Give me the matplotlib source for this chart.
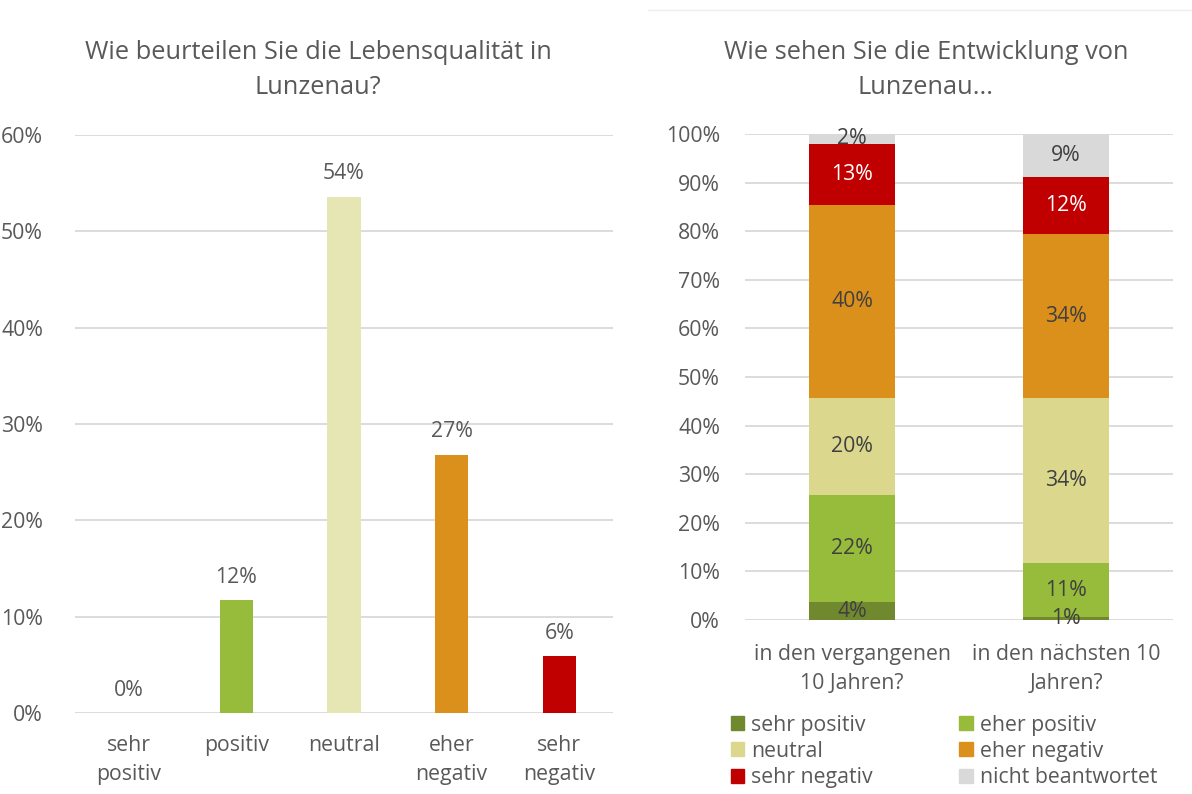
import matplotlib.pyplot as plt
from matplotlib.lines import Line2D
from matplotlib.patches import Patch
import numpy as np

plt.rcParams['font.family'] = ['Open Sans', 'DejaVu Sans']

TEXT = '#595959'
GRID = '#d9d9d9'
FS = 15.3

# Lebensqualitaet
quality_labels = ['sehr\npositiv', 'positiv', 'neutral', 'eher\nnegativ', 'sehr\nnegativ']
quality_values = [0.0, 11.7, 53.6, 26.8, 5.9]
quality_colors = ['#70892e', '#97bb3b', '#e6e5b4', '#dc901c', '#c00000']

# Entwicklung
periods = ['in den vergangenen\n10 Jahren?', 'in den nächsten 10\nJahren?']
answers = ['sehr positiv', 'eher positiv', 'neutral', 'eher negativ',
           'sehr negativ', 'nicht beantwortet']
sehr_positiv = [3.7, 0.6]
eher_positiv = [22.0, 11.1]
neutral = [20.0, 34.0]
eher_negativ = [39.7, 33.7]
sehr_negativ = [12.6, 11.7]
nicht_beantwortet = [2.0, 8.9]
answer_colors = ['#70892e', '#97bb3b', '#dbd88e', '#dc901c', '#c00000', '#d9d9d9']


def style_axis(ax, ymax, step):
    ax.set_ylim(0, ymax)
    ax.set_yticks(np.arange(0, ymax + 0.1, step))
    ax.set_yticklabels([f'{int(v)}%' for v in np.arange(0, ymax + 0.1, step)])
    ax.yaxis.grid(True, color=GRID, linewidth=1.3)
    ax.set_axisbelow(True)
    for s in ax.spines.values():
        s.set_visible(False)
    ax.tick_params(length=0, labelsize=FS, labelcolor=TEXT)


fig = plt.figure(figsize=(11.92, 7.94), dpi=100)

# left: single bars
ax1 = fig.add_axes([75 / 1192, 81 / 794, 538 / 1192, 578 / 794])
x = np.arange(len(quality_labels))
ax1.bar(x, quality_values, width=0.31, color=quality_colors)
for xi, v in zip(x, quality_values):
    ax1.annotate(f'{v:.0f}%', (xi, v), xytext=(0, 9), textcoords='offset points',
                 ha='center', va='bottom', fontsize=FS, color=TEXT)
style_axis(ax1, 60, 10)
ax1.set_xlim(-0.5, len(x) - 0.5)
ax1.set_xticks(x)
ax1.set_xticklabels(quality_labels, linespacing=1.5)
ax1.tick_params(axis='y', pad=23)
ax1.tick_params(axis='x', pad=16)
fig.text(318 / 1192, 1 - 70 / 794, 'Wie beurteilen Sie die Lebensqualität in\nLunzenau?',
         ha='center', va='center', fontsize=18.3, color=TEXT, linespacing=1.55)

# right: stacked bars
ax2 = fig.add_axes([745 / 1192, 174 / 794, 428 / 1192, 486 / 794])
series = [sehr_positiv, eher_positiv, neutral, eher_negativ, sehr_negativ, nicht_beantwortet]
xp = np.arange(len(periods))
bottom = np.zeros(len(periods))
for name, vals, col in zip(answers, series, answer_colors):
    vals = np.array(vals)
    ax2.bar(xp, vals, width=0.4, bottom=bottom, color=col, label=name)
    lc = 'white' if name == 'sehr negativ' else '#404040'
    for xi, b, v in zip(xp, bottom, vals):
        ax2.text(xi, b + v / 2, f'{v:.0f}%', ha='center', va='center',
                 fontsize=FS, color=lc)
    bottom += vals
style_axis(ax2, 100, 10)
ax2.set_xlim(-0.5, len(xp) - 0.5)
ax2.set_xticks(xp)
ax2.set_xticklabels(periods, linespacing=1.5)
ax2.tick_params(axis='y', pad=18)
ax2.tick_params(axis='x', pad=17)
fig.text(926 / 1192, 1 - 70 / 794, 'Wie sehen Sie die Entwicklung von\nLunzenau...',
         ha='center', va='center', fontsize=18.3, color=TEXT, linespacing=1.55)

order = [0, 2, 4, 1, 3, 5]
handles = [Patch(color=answer_colors[i]) for i in order]
labels = [answers[i] for i in order]
fig.legend(handles, labels, ncol=2, loc='upper left',
           bbox_to_anchor=(722 / 1192, 1 - 706 / 794), frameon=False,
           fontsize=FS, labelcolor=TEXT, handlelength=0.65, handleheight=0.65,
           handletextpad=0.3, columnspacing=4.1, labelspacing=0.25, borderaxespad=0)

# thin frame line above the right chart
fig.add_artist(Line2D([648 / 1192, 1], [1 - 10 / 794] * 2, color='#eeeeee', linewidth=1))

fig.savefig('out.png', dpi=100)
